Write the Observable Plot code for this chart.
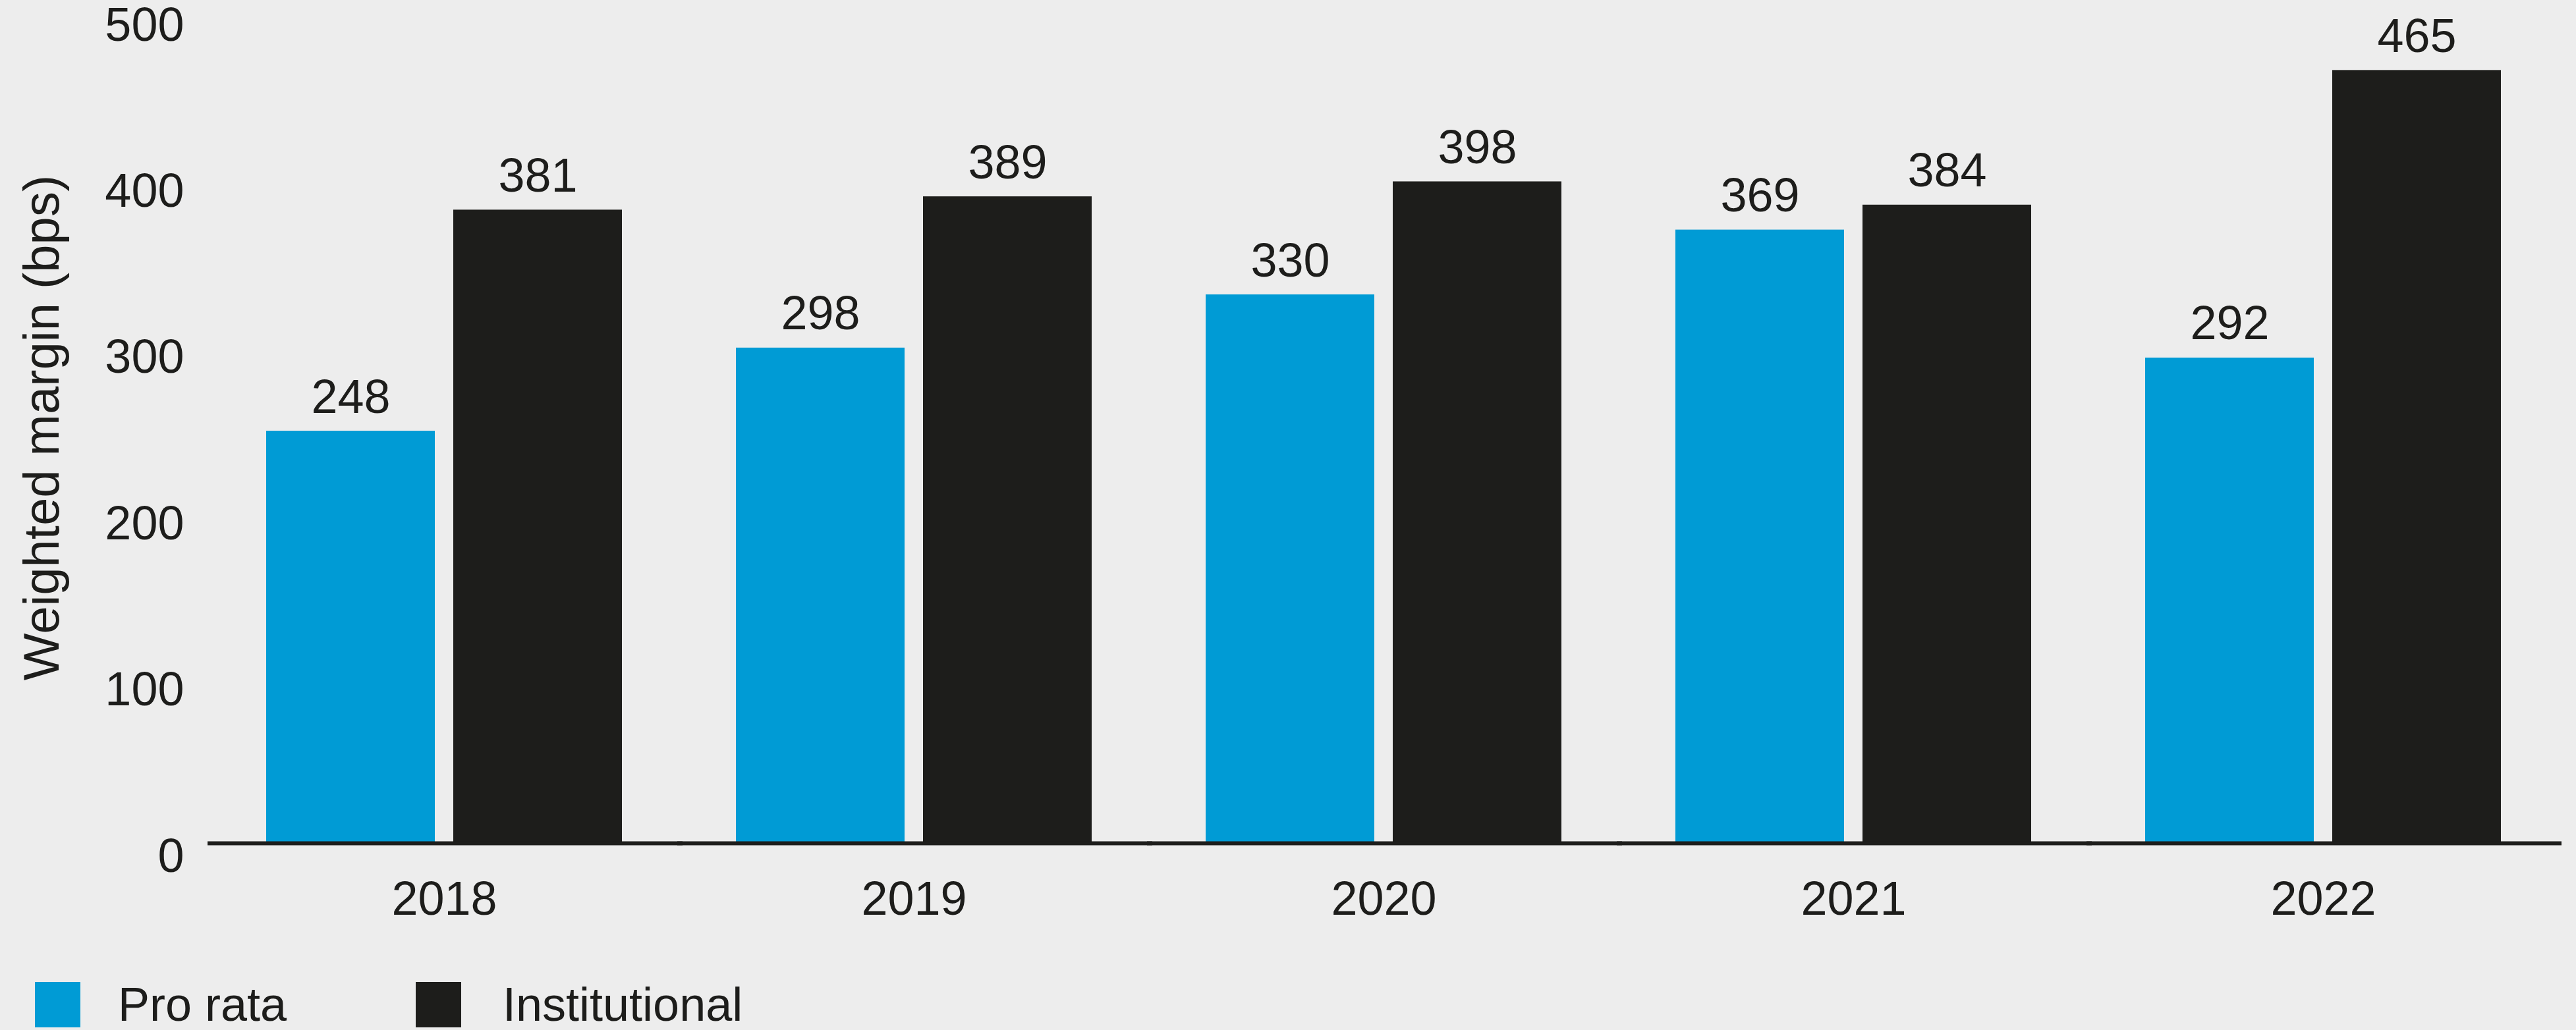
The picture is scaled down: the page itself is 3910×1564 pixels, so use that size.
<!DOCTYPE html>
<html><head><meta charset="utf-8">
<script src="https://cdn.jsdelivr.net/npm/d3@7"></script>
<script src="https://cdn.jsdelivr.net/npm/@observablehq/plot@0.6"></script>
<style>
html,body{margin:0;padding:0;background:#ededed;}
body{width:3910px;height:1564px;overflow:hidden;font-family:"Liberation Sans",Arial,sans-serif;color:#1d1d1b;}
#legend{position:relative;height:124px;width:3910px;}
.sw{position:absolute;top:51px;width:69px;height:69px;}
.lb{position:absolute;top:49px;font-size:72px;line-height:72px;white-space:nowrap;}
</style></head><body><div id="chart"></div><div id="legend"></div>
<script>
const years = ["2018", "2019", "2020", "2021", "2022"];
const series = ["Pro rata", "Institutional"];
const proRata = [248, 298, 330, 369, 292];
const institutional = [381, 389, 398, 384, 465];
const yTicks = [0, 100, 200, 300, 400, 500];
const colors = ["#009bd5", "#1d1d1b"];
const yLabel = "Weighted margin (bps)";

const data = years.flatMap((year, i) => [
  {year, series: series[0], value: proRata[i]},
  {year, series: series[1], value: institutional[i]}
]);

const ink = "#1d1d1b";
const plot = Plot.plot({
  width: 3910,
  height: 1440,
  marginTop: 18,
  marginBottom: 160,
  marginLeft: 315,
  marginRight: 25,
  facetMarginLeft: 0,
  facetMarginRight: 0,
  facetMarginTop: 0,
  facetMarginBottom: 0,
  style: {background: "#ededed", fontFamily: "'Liberation Sans', Arial, sans-serif", fontSize: "72px", color: ink, overflow: "visible"},
  fx: {domain: years, paddingInner: 0.24, paddingOuter: 0.123, label: null, axis: null},
  x: {domain: series, paddingInner: 0.098, paddingOuter: 0, axis: null},
  y: {domain: [0, 500], label: null},
  color: {domain: series, range: colors},
  marks: [
    Plot.barY(data, {fx: "year", x: "series", y: "value", fill: "series"}),
    Plot.ruleY([0], {stroke: ink, strokeWidth: 6, insetLeft: -88, insetRight: -91}),
    Plot.text(data, {fx: "year", x: "series", y: "value", text: d => String(d.value), lineAnchor: "bottom", dy: -28, fill: ink}),
    Plot.axisY({ticks: yTicks, tickSize: 0, tickPadding: 124, dy: 20, label: null, fill: ink}),
    Plot.axisY({ticks: [], tickSize: 0, label: yLabel, labelArrow: "none", labelAnchor: "center", labelOffset: 368, fontSize: 76, fill: ink}),
    Plot.axisFx({anchor: "bottom", tickSize: 0, tickPadding: 57, label: null, fill: ink})
  ]
});
document.getElementById("chart").appendChild(plot);

const legend = document.getElementById("legend");
const swX = [53, 631];
const lbX = [179, 763];
series.forEach((s, i) => {
  const sw = document.createElement("div");
  sw.className = "sw";
  sw.style.left = swX[i] + "px";
  sw.style.background = colors[i];
  legend.appendChild(sw);
  const lb = document.createElement("div");
  lb.className = "lb";
  lb.style.left = lbX[i] + "px";
  lb.textContent = s;
  legend.appendChild(lb);
});
</script></body></html>
